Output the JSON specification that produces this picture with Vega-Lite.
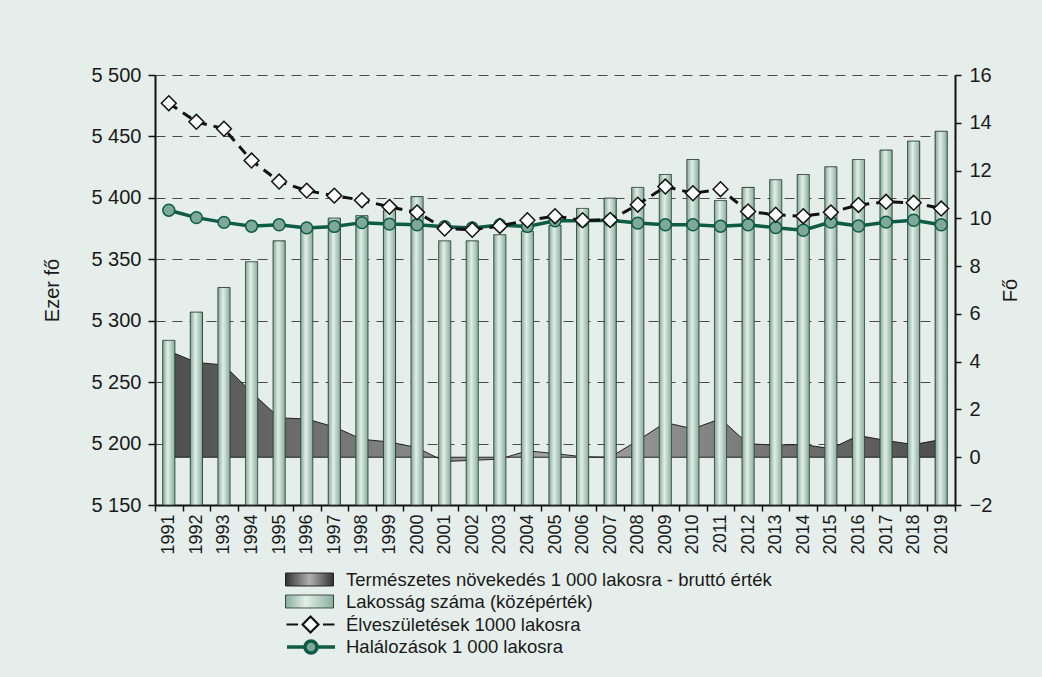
{
  "$schema": "https://vega.github.io/schema/vega-lite/v6.json",
  "width": 800,
  "height": 430,
  "autosize": {"type": "none"},
  "padding": {"left": 155, "top": 75, "right": 87, "bottom": 172},
  "background": "#e5eeea",
  "config": {
    "view": {"stroke": null},
    "font": "Liberation Sans",
    "axis": {"labelFont": "Liberation Sans", "titleFont": "Liberation Sans", "labelColor": "#1a1a1a", "titleColor": "#1a1a1a", "domainColor": "#111111", "tickColor": "#111111", "titleFontWeight": "normal"},
    "legend": {"labelFont": "Liberation Sans", "labelFontSize": 18.5, "labelColor": "#1a1a1a", "labelLimit": 800, "padding": 0, "labelOffset": 12, "title": null}
  },
  "data": {"values": [
    {"year": "1991", "pop": 5284, "births": 14.82, "deaths": 10.34, "growth": 4.45},
    {"year": "1992", "pop": 5307, "births": 14.04, "deaths": 10.03, "growth": 3.97},
    {"year": "1993", "pop": 5327, "births": 13.75, "deaths": 9.83, "growth": 3.86},
    {"year": "1994", "pop": 5348, "births": 12.42, "deaths": 9.67, "growth": 2.72},
    {"year": "1995", "pop": 5365, "births": 11.54, "deaths": 9.73, "growth": 1.65},
    {"year": "1996", "pop": 5375, "births": 11.16, "deaths": 9.6, "growth": 1.6},
    {"year": "1997", "pop": 5383.5, "births": 10.95, "deaths": 9.66, "growth": 1.27},
    {"year": "1998", "pop": 5385.5, "births": 10.76, "deaths": 9.82, "growth": 0.75},
    {"year": "1999", "pop": 5390, "births": 10.48, "deaths": 9.76, "growth": 0.64},
    {"year": "2000", "pop": 5401, "births": 10.25, "deaths": 9.73, "growth": 0.4},
    {"year": "2001", "pop": 5365, "births": 9.57, "deaths": 9.65, "growth": -0.18},
    {"year": "2002", "pop": 5365, "births": 9.52, "deaths": 9.6, "growth": -0.13},
    {"year": "2003", "pop": 5370, "births": 9.68, "deaths": 9.72, "growth": -0.08},
    {"year": "2004", "pop": 5372.7, "births": 9.92, "deaths": 9.66, "growth": 0.27},
    {"year": "2005", "pop": 5377.6, "births": 10.09, "deaths": 9.9, "growth": 0.15},
    {"year": "2006", "pop": 5391.4, "births": 9.92, "deaths": 9.9, "growth": 0.02},
    {"year": "2007", "pop": 5399.8, "births": 9.93, "deaths": 9.92, "growth": 0.0},
    {"year": "2008", "pop": 5408.5, "births": 10.57, "deaths": 9.8, "growth": 0.7},
    {"year": "2009", "pop": 5419, "births": 11.33, "deaths": 9.73, "growth": 1.45},
    {"year": "2010", "pop": 5431.2, "births": 11.05, "deaths": 9.73, "growth": 1.19},
    {"year": "2011", "pop": 5397.8, "births": 11.22, "deaths": 9.67, "growth": 1.61},
    {"year": "2012", "pop": 5408.5, "births": 10.29, "deaths": 9.73, "growth": 0.56},
    {"year": "2013", "pop": 5414.8, "births": 10.15, "deaths": 9.61, "growth": 0.51},
    {"year": "2014", "pop": 5419, "births": 10.09, "deaths": 9.5, "growth": 0.53},
    {"year": "2015", "pop": 5425.3, "births": 10.25, "deaths": 9.84, "growth": 0.36},
    {"year": "2016", "pop": 5431.2, "births": 10.56, "deaths": 9.68, "growth": 0.91},
    {"year": "2017", "pop": 5438.9, "births": 10.69, "deaths": 9.84, "growth": 0.7},
    {"year": "2018", "pop": 5446.2, "births": 10.65, "deaths": 9.92, "growth": 0.53},
    {"year": "2019", "pop": 5454.2, "births": 10.41, "deaths": 9.73, "growth": 0.74}
  ]},
  "encoding": {
    "x": {
      "field": "year", "type": "ordinal",
      "scale": {"paddingInner": 0, "paddingOuter": 0},
      "axis": {"title": null, "labelAngle": 270, "labelFontSize": 18, "tickBand": "extent", "tickSize": 6, "tickWidth": 1.5, "domainWidth": 2, "labelPadding": 3, "grid": false}
    }
  },
  "layer": [
    {
      "mark": {"type": "area", "fill": {"gradient": "linear", "x1": 0, "y1": 0, "x2": 1, "y2": 0, "stops": [{"offset": 0, "color": "#4e4e4e"}, {"offset": 0.5, "color": "#a7a7a7"}, {"offset": 1, "color": "#4e4e4e"}]}, "stroke": "#111111", "strokeWidth": 0.9},
      "encoding": {
        "y": {"field": "growth", "type": "quantitative", "scale": {"domain": [-2, 16], "zero": false, "nice": false}, "axis": null},
        "y2": {"datum": 0},
        "opacity": {
          "datum": "Természetes növekedés 1 000 lakosra - bruttó érték",
          "scale": {"range": [1, 1]},
          "legend": {
            "orient": "none", "legendX": 130, "legendY": 480,
            "symbolType": "M-1,-0.27H1V0.27H-1Z", "symbolSize": 2304, "symbolStrokeWidth": 1,
            "encoding": {"symbols": {
              "fill": {"value": {"gradient": "linear", "x1": 0, "y1": 0, "x2": 1, "y2": 0, "stops": [{"offset": 0, "color": "#333333"}, {"offset": 0.5, "color": "#b0b0b0"}, {"offset": 1, "color": "#333333"}]}},
              "stroke": {"value": "#222222"}, "strokeWidth": {"value": 1}, "opacity": {"value": 1}, "fillOpacity": {"value": 1},
              "shape": {"value": "M-1,-0.27H1V0.27H-1Z"}, "size": {"value": 2304}
            }}
          }
        }
      }
    },
    {
      "mark": {"type": "bar", "width": {"band": 0.44}, "fill": {"gradient": "linear", "x1": 0, "y1": 0, "x2": 1, "y2": 0, "stops": [{"offset": 0, "color": "#82a998"}, {"offset": 0.42, "color": "#e3eee9"}, {"offset": 1, "color": "#86ad9c"}]}, "stroke": "#2e3f38", "strokeWidth": 1},
      "encoding": {
        "y": {
          "field": "pop", "type": "quantitative",
          "scale": {"domain": [5150, 5500], "zero": false, "nice": false},
          "axis": {"orient": "left", "title": "Ezer fő", "titleFontSize": 20, "titlePadding": 28, "labelFontSize": 20, "values": [5150, 5200, 5250, 5300, 5350, 5400, 5450, 5500], "labelExpr": "replace(format(datum.value, ','), ',', ' ')", "grid": true, "gridDash": [10, 7], "gridColor": "#4a4a4a", "gridWidth": 1.2, "tickSize": 7, "tickWidth": 1.5, "domainWidth": 2, "labelPadding": 7}
        },
        "y2": {"datum": 5150},
        "strokeDash": {
          "datum": "Lakosság száma (középérték)",
          "scale": {"range": [[1, 0]]},
          "legend": {
            "orient": "none", "legendX": 130, "legendY": 502,
            "symbolType": "M-1,-0.27H1V0.27H-1Z", "symbolSize": 2304, "symbolStrokeWidth": 1,
            "encoding": {"symbols": {
              "fill": {"value": {"gradient": "linear", "x1": 0, "y1": 0, "x2": 1, "y2": 0, "stops": [{"offset": 0, "color": "#86ad9c"}, {"offset": 0.42, "color": "#e3eee9"}, {"offset": 1, "color": "#8ab09f"}]}},
              "stroke": {"value": "#2e3f38"}, "strokeWidth": {"value": 1}, "opacity": {"value": 1}, "strokeDash": {"value": [1, 0]},
              "shape": {"value": "M-1,-0.27H1V0.27H-1Z"}, "size": {"value": 2304}
            }}
          }
        }
      }
    },
    {
      "layer": [
        {
          "mark": {"type": "line", "stroke": "#0e5c45"},
          "encoding": {
            "y": {"field": "deaths", "type": "quantitative", "scale": {"domain": [-2, 16], "zero": false, "nice": false}, "axis": {"orient": "right", "title": "Fő", "titleFontSize": 20, "titleAngle": 270, "titleBaseline": "top", "titlePadding": 9, "labelFontSize": 20, "values": [-2, 0, 2, 4, 6, 8, 10, 12, 14, 16], "grid": false, "tickSize": 6, "tickWidth": 1.5, "domainWidth": 2, "labelPadding": 8}},
            "strokeWidth": {
              "datum": "Halálozások 1 000 lakosra",
              "scale": {"range": [3.5, 3.5]},
              "legend": {
                "orient": "none", "legendX": 130, "legendY": 546, "labelOffset": 9,
                "symbolType": "M-1,0H-0.25M0.25,0H1M0.25,0A0.25,0.25 0 1 1 -0.25,0A0.25,0.25 0 1 1 0.25,0Z", "symbolSize": 2304, "symbolStrokeWidth": 1,
                "encoding": {"symbols": {
                  "fill": {"value": "#7ea898"}, "stroke": {"value": "#0e5c45"}, "strokeWidth": {"value": 2.5}, "opacity": {"value": 1},
                  "shape": {"value": "M-1,0H-0.25M0.25,0H1M0.25,0A0.25,0.25 0 1 1 -0.25,0A0.25,0.25 0 1 1 0.25,0Z"}, "size": {"value": 2304}
                }}
              }
            }
          }
        },
        {
          "mark": {"type": "point", "shape": "circle", "filled": true, "fill": "#7ea898", "stroke": "#0e5c45", "strokeWidth": 1.5, "size": 140, "opacity": 1},
          "encoding": {
            "y": {"field": "deaths", "type": "quantitative", "scale": {"domain": [-2, 16], "zero": false, "nice": false}, "axis": {"orient": "right", "title": "Fő", "titleFontSize": 20, "titleAngle": 270, "titleBaseline": "top", "titlePadding": 9, "labelFontSize": 20, "values": [-2, 0, 2, 4, 6, 8, 10, 12, 14, 16], "grid": false, "tickSize": 6, "tickWidth": 1.5, "domainWidth": 2, "labelPadding": 8}}
          }
        },
        {
          "mark": {"type": "line", "strokeWidth": 3, "strokeDash": [10, 7]},
          "encoding": {
            "y": {"field": "births", "type": "quantitative", "scale": {"domain": [-2, 16], "zero": false, "nice": false}, "axis": {"orient": "right", "title": "Fő", "titleFontSize": 20, "titleAngle": 270, "titleBaseline": "top", "titlePadding": 9, "labelFontSize": 20, "values": [-2, 0, 2, 4, 6, 8, 10, 12, 14, 16], "grid": false, "tickSize": 6, "tickWidth": 1.5, "domainWidth": 2, "labelPadding": 8}},
            "stroke": {
              "datum": "Élveszületések 1000 lakosra",
              "scale": {"range": ["#111111"]},
              "legend": {
                "orient": "none", "legendX": 130, "legendY": 524, "labelOffset": 10,
                "symbolType": "M-1,0H-0.52M0.52,0H1M-0.33,0L0,-0.33L0.33,0L0,0.33Z", "symbolSize": 2304, "symbolStrokeWidth": 1,
                "encoding": {"symbols": {
                  "fill": {"value": "#ffffff"}, "stroke": {"value": "#111111"}, "strokeWidth": {"value": 2.2}, "opacity": {"value": 1}, "fillOpacity": {"value": 1}, "strokeOpacity": {"value": 1},
                  "shape": {"value": "M-1,0H-0.52M0.52,0H1M-0.33,0L0,-0.33L0.33,0L0,0.33Z"}, "size": {"value": 2304}
                }}
              }
            }
          }
        },
        {
          "mark": {"type": "point", "shape": "diamond", "filled": true, "fill": "#ffffff", "stroke": "#111111", "strokeWidth": 1.5, "size": 220, "opacity": 1},
          "encoding": {
            "y": {"field": "births", "type": "quantitative", "scale": {"domain": [-2, 16], "zero": false, "nice": false}, "axis": {"orient": "right", "title": "Fő", "titleFontSize": 20, "titleAngle": 270, "titleBaseline": "top", "titlePadding": 9, "labelFontSize": 20, "values": [-2, 0, 2, 4, 6, 8, 10, 12, 14, 16], "grid": false, "tickSize": 6, "tickWidth": 1.5, "domainWidth": 2, "labelPadding": 8}}
          }
        }
      ]
    }
  ],
  "resolve": {"scale": {"y": "independent"}}
}
